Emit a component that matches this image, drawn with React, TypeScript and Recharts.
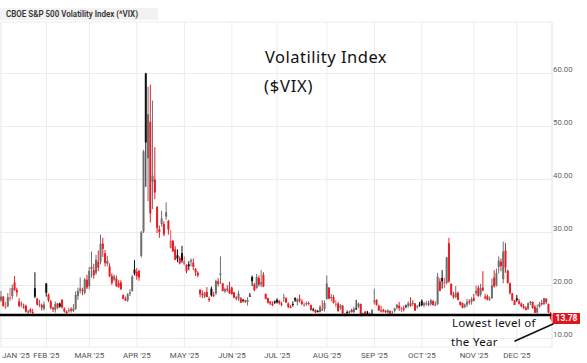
import React from 'react';
import { ComposedChart, Bar, XAxis, YAxis, CartesianGrid, ReferenceLine } from 'recharts';

const monthLabels = ['JAN', 'FEB', 'MAR', 'APR', 'MAY', 'JUN', 'JUL', 'AUG', 'SEP', 'OCT', 'NOV', 'DEC'];

const tradingDays: number[][] = [
  [2, 3, 6, 7, 8, 10, 13, 14, 15, 16, 17, 21, 22, 23, 24, 27, 28, 29, 30, 31],
  [3, 4, 5, 6, 7, 10, 11, 12, 13, 14, 18, 19, 20, 21, 24, 25, 26, 27, 28],
  [3, 4, 5, 6, 7, 10, 11, 12, 13, 14, 17, 18, 19, 20, 21, 24, 25, 26, 27, 28, 31],
  [1, 2, 3, 4, 7, 8, 9, 10, 11, 14, 15, 16, 17, 21, 22, 23, 24, 25, 28, 29, 30],
  [1, 2, 5, 6, 7, 8, 9, 12, 13, 14, 15, 16, 19, 20, 21, 22, 23, 27, 28, 29, 30],
  [2, 3, 4, 5, 6, 9, 10, 11, 12, 13, 16, 17, 18, 20, 23, 24, 25, 26, 27, 30],
  [1, 2, 3, 7, 8, 9, 10, 11, 14, 15, 16, 17, 18, 21, 22, 23, 24, 25, 28, 29, 30, 31],
  [1, 4, 5, 6, 7, 8, 11, 12, 13, 14, 15, 18, 19, 20, 21, 22, 25, 26, 27, 28, 29],
  [2, 3, 4, 5, 8, 9, 10, 11, 12, 15, 16, 17, 18, 19, 22, 23, 24, 25, 26, 29, 30],
  [1, 2, 3, 6, 7, 8, 9, 10, 13, 14, 15, 16, 17, 20, 21, 22, 23, 24, 27, 28, 29, 30, 31],
  [3, 4, 5, 6, 7, 10, 11, 12, 13, 14, 17, 18, 19, 20, 21, 24, 25, 26, 28],
  [1, 2, 3, 4, 5, 8, 9, 10, 11, 12, 15, 16, 17, 18, 19, 22],
];

const opens: number[][] = [
  [17.2, 17.9, 16.0, 16.1, 17.6, 18.0, 20.6, 19.2, 17.0, 16.4, 16.0, 16.2, 15.0, 15.5, 15.0, 19.5, 17.5, 16.4, 16.3, 15.6],
  [20.4, 18.3, 17.0, 15.8, 15.4, 16.6, 16.6, 17.3, 15.6, 15.1, 15.3, 15.6, 15.2, 15.6, 18.0, 19.0, 19.2, 18.6, 21.1],
  [19.9, 23.1, 22.9, 22.4, 24.5, 24.5, 27.9, 26.1, 24.1, 23.6, 21.8, 21.1, 21.3, 20.4, 20.6, 18.2, 17.5, 17.2, 18.4, 19.0, 23.0],
  [22.6, 22.8, 25.6, 30.2, 60.0, 44.0, 50.9, 39.5, 40.0, 34.8, 30.6, 31.6, 31.6, 33.0, 32.2, 27.1, 28.4, 26.8, 25.7, 25.2, 26.1],
  [24.0, 23.9, 24.0, 24.5, 24.3, 23.1, 22.4, 19.2, 18.4, 17.9, 18.8, 17.5, 19.4, 18.2, 18.5, 20.8, 22.0, 20.4, 18.9, 19.4, 19.2],
  [19.6, 18.7, 17.7, 17.5, 17.6, 17.3, 17.2, 16.9, 18.1, 21.6, 20.2, 19.5, 21.4, 20.2, 22.0, 18.4, 17.6, 17.0, 16.5, 17.0],
  [17.3, 17.1, 16.6, 17.7, 17.6, 16.6, 16.0, 16.5, 17.6, 16.9, 17.5, 17.0, 16.4, 16.6, 16.7, 16.3, 15.5, 15.4, 15.2, 15.0, 15.5, 15.6],
  [17.5, 19.6, 17.6, 17.8, 16.4, 16.6, 15.8, 16.2, 14.6, 15.0, 14.9, 15.4, 15.0, 15.7, 16.0, 16.5, 14.7, 15.1, 14.9, 14.6, 14.6],
  [16.9, 17.3, 16.2, 15.3, 15.4, 15.2, 14.9, 15.2, 14.7, 15.2, 15.8, 16.2, 15.6, 15.7, 16.2, 16.2, 16.6, 16.5, 16.6, 15.9, 16.4],
  [17.1, 16.3, 16.5, 16.6, 16.5, 17.1, 16.4, 16.5, 20.8, 21.4, 20.4, 20.5, 28.0, 20.3, 18.2, 17.8, 18.6, 16.9, 16.7, 16.0, 16.4, 17.0, 16.9],
  [17.6, 18.5, 19.6, 18.3, 19.6, 17.9, 18.0, 17.5, 17.6, 21.5, 20.0, 23.5, 24.5, 21.2, 26.6, 22.8, 20.4, 18.5, 17.2],
  [17.6, 17.0, 16.6, 16.1, 15.8, 15.6, 16.7, 16.9, 16.0, 14.9, 16.0, 16.7, 16.5, 17.5, 16.5, 14.9],
];

const highs: number[][] = [
  [19.0, 18.0, 16.9, 18.6, 19.5, 20.2, 21.8, 19.6, 17.6, 17.0, 16.6, 16.4, 15.4, 15.7, 15.6, 22.5, 17.7, 17.3, 16.6, 17.0],
  [20.4, 18.5, 17.3, 16.0, 17.0, 16.7, 16.8, 17.4, 15.9, 15.3, 15.8, 15.9, 16.5, 18.9, 19.6, 21.5, 19.6, 21.4, 22.0],
  [23.5, 26.4, 24.1, 25.8, 26.6, 29.6, 29.0, 26.7, 25.6, 24.2, 22.3, 22.1, 21.9, 21.0, 21.0, 18.3, 17.9, 18.6, 19.3, 22.0, 24.8],
  [23.3, 22.9, 30.3, 45.6, 60.13, 57.5, 57.9, 54.9, 46.1, 35.0, 31.3, 34.1, 32.1, 35.7, 32.4, 30.5, 28.6, 27.4, 26.8, 25.5, 27.5],
  [25.5, 24.0, 24.6, 25.1, 25.1, 23.3, 22.7, 19.3, 19.1, 18.8, 19.7, 17.9, 19.8, 18.8, 21.1, 21.4, 25.5, 20.5, 19.6, 20.1, 20.7],
  [19.8, 18.8, 18.0, 19.0, 17.8, 17.5, 17.3, 17.8, 18.6, 21.9, 20.5, 22.2, 21.9, 22.9, 22.5, 18.5, 17.7, 17.0, 17.0, 17.2],
  [17.6, 17.3, 16.9, 18.4, 17.8, 16.8, 16.3, 17.0, 17.8, 17.6, 18.3, 17.4, 16.8, 17.0, 17.0, 16.4, 15.8, 15.5, 15.4, 16.3, 17.2, 17.2],
  [21.9, 19.7, 18.4, 18.2, 17.2, 16.9, 16.5, 16.3, 14.8, 15.3, 15.3, 15.6, 16.0, 17.3, 16.8, 16.6, 14.9, 15.2, 15.2, 14.9, 15.6],
  [19.4, 17.4, 16.4, 16.2, 15.6, 15.4, 15.5, 15.3, 15.2, 15.8, 16.5, 16.9, 16.0, 16.2, 16.4, 17.0, 17.8, 17.3, 16.7, 16.3, 16.9],
  [17.4, 16.9, 17.1, 17.1, 17.5, 17.2, 17.0, 22.4, 21.4, 22.9, 21.5, 25.4, 29.0, 20.4, 18.8, 19.9, 18.9, 17.0, 16.8, 16.6, 17.5, 17.4, 17.8],
  [18.4, 20.0, 20.0, 20.3, 22.7, 18.4, 18.3, 17.9, 21.3, 22.9, 23.2, 25.5, 25.1, 28.3, 28.0, 23.0, 20.6, 18.6, 17.3],
  [18.2, 17.5, 16.8, 16.5, 16.1, 16.8, 17.1, 17.0, 16.3, 16.4, 16.9, 17.3, 17.7, 17.6, 16.6, 15.0],
];

const lows: number[][] = [
  [16.9, 16.0, 15.6, 15.9, 17.1, 17.4, 19.0, 17.9, 15.9, 15.9, 15.6, 14.9, 14.6, 14.8, 14.6, 17.6, 16.2, 15.9, 15.3, 15.3],
  [17.9, 16.9, 15.5, 15.0, 14.9, 15.6, 15.8, 15.6, 14.9, 14.6, 14.9, 14.9, 15.0, 15.4, 17.3, 18.5, 18.2, 18.3, 19.3],
  [19.3, 21.5, 21.3, 22.0, 22.7, 24.0, 25.4, 23.6, 23.6, 21.6, 20.1, 20.8, 19.7, 19.6, 19.2, 17.4, 17.1, 16.9, 18.0, 18.8, 21.9],
  [21.1, 20.9, 25.3, 29.9, 38.6, 35.9, 31.9, 34.4, 36.3, 29.9, 29.0, 31.1, 29.3, 32.4, 29.6, 27.0, 26.3, 24.8, 24.4, 24.0, 24.3],
  [23.8, 22.3, 22.9, 23.6, 22.9, 21.8, 21.6, 17.8, 17.6, 17.6, 17.8, 16.9, 17.9, 17.8, 18.2, 19.8, 20.3, 18.9, 18.6, 18.8, 18.4],
  [18.3, 17.6, 17.2, 17.1, 16.7, 16.8, 16.7, 16.2, 17.9, 19.9, 18.9, 19.4, 19.8, 19.7, 19.7, 17.4, 16.6, 16.3, 16.1, 16.5],
  [16.6, 16.4, 16.1, 16.9, 16.7, 15.7, 15.7, 16.0, 16.9, 16.2, 16.8, 16.3, 16.0, 16.2, 16.3, 15.3, 15.1, 14.8, 14.9, 14.9, 15.2, 15.1],
  [17.3, 17.4, 17.0, 16.6, 15.9, 15.1, 15.4, 14.6, 14.2, 14.3, 14.6, 14.9, 14.8, 15.4, 15.7, 14.2, 14.2, 14.4, 14.5, 14.2, 14.4],
  [16.4, 16.2, 15.2, 14.9, 14.9, 14.8, 14.7, 14.6, 14.5, 14.9, 15.5, 15.2, 15.0, 15.1, 15.7, 15.8, 16.0, 16.1, 15.2, 15.6, 16.0],
  [16.1, 15.9, 16.2, 16.1, 16.2, 16.2, 16.1, 16.3, 18.9, 19.4, 19.5, 20.2, 20.5, 18.1, 17.5, 17.6, 17.2, 16.2, 15.7, 15.7, 15.9, 16.4, 16.4],
  [17.0, 18.1, 17.9, 17.9, 18.9, 17.4, 17.2, 17.1, 17.5, 19.6, 19.8, 22.3, 22.7, 20.4, 22.4, 20.3, 18.3, 17.1, 16.3],
  [16.9, 16.4, 15.9, 15.6, 15.3, 15.4, 16.3, 15.6, 14.8, 14.7, 15.8, 16.2, 16.3, 16.5, 14.8, 13.7],
];

const closes: number[][] = [
  [17.93, 16.13, 16.04, 17.82, 17.70, 19.54, 19.19, 18.71, 16.12, 16.60, 15.97, 15.06, 15.10, 15.02, 14.85, 17.90, 16.41, 16.56, 15.84, 16.43],
  [18.62, 17.21, 15.77, 15.50, 16.54, 15.81, 16.02, 15.89, 15.10, 14.77, 15.35, 15.27, 15.66, 18.21, 18.98, 19.43, 19.10, 21.13, 19.63],
  [22.78, 23.51, 21.93, 24.87, 23.37, 27.86, 26.92, 24.23, 24.66, 21.77, 20.51, 21.70, 19.90, 19.80, 19.28, 17.48, 17.15, 18.33, 18.69, 21.65, 22.28],
  [21.77, 21.51, 30.02, 45.31, 46.98, 52.33, 33.62, 40.72, 37.56, 30.89, 30.12, 32.64, 29.65, 33.82, 30.57, 28.45, 26.47, 24.84, 25.15, 24.17, 24.70],
  [24.60, 22.68, 23.64, 24.76, 23.55, 22.48, 21.90, 18.39, 18.22, 18.62, 17.83, 17.24, 18.14, 18.09, 20.87, 20.28, 22.29, 18.96, 19.31, 19.18, 18.57],
  [18.36, 17.69, 17.61, 18.48, 16.77, 17.16, 16.95, 17.26, 18.02, 20.82, 19.11, 21.60, 20.14, 20.62, 19.83, 17.48, 16.76, 16.59, 16.32, 16.73],
  [16.83, 16.64, 16.38, 17.79, 16.81, 15.94, 15.78, 16.40, 17.20, 17.38, 17.16, 16.52, 16.41, 16.65, 16.50, 15.37, 15.39, 14.93, 15.03, 15.98, 15.48, 16.72],
  [20.38, 17.52, 17.85, 16.77, 16.57, 15.15, 16.25, 14.73, 14.49, 14.83, 15.09, 14.99, 15.57, 15.69, 16.60, 14.22, 14.79, 14.62, 14.85, 14.43, 15.36],
  [17.17, 16.35, 15.30, 15.18, 15.11, 15.04, 15.35, 14.71, 14.76, 15.69, 16.36, 15.72, 15.70, 15.45, 16.10, 16.64, 16.18, 16.74, 15.29, 16.12, 16.28],
  [16.29, 16.63, 16.65, 16.37, 17.24, 16.30, 16.43, 21.66, 19.03, 20.81, 20.64, 25.31, 20.78, 18.23, 17.87, 18.60, 17.30, 16.37, 15.79, 16.42, 16.92, 16.91, 17.44],
  [17.17, 19.00, 18.01, 19.50, 19.08, 17.60, 17.28, 17.51, 20.00, 19.83, 22.38, 24.69, 23.66, 26.42, 23.43, 20.52, 18.56, 17.19, 16.35],
  [17.24, 16.59, 16.08, 15.78, 15.41, 16.66, 16.93, 15.77, 14.85, 15.74, 16.50, 16.48, 17.62, 16.87, 14.91, 13.78],
];

const yTicks = [10, 20, 30, 40, 50, 60];
const lowestLevel = 14.43;
const lastClose = 13.78;

type Row = { date: string; open: number; high: number; low: number; close: number; range: [number, number]; color: string };

const data: Row[] = [];
const monthStarts: string[] = [];
let prevClose: number | null = null;
tradingDays.forEach((days, m) => {
  days.forEach((d, i) => {
    const date = `2025-${String(m + 1).padStart(2, '0')}-${String(d).padStart(2, '0')}`;
    if (i === 0) monthStarts.push(date);
    const open = opens[m][i];
    const high = highs[m][i];
    const low = lows[m][i];
    const close = closes[m][i];
    const ref = prevClose === null ? open : prevClose;
    const up = close >= ref;
    const filled = close < open;
    const color = up ? (filled ? '#111111' : '#6f6f6f') : (filled ? '#ea1b22' : '#f0575c');
    data.push({ date, open, high, low, close, range: [low, high], color });
    prevClose = close;
  });
});

const Candle = (props: any) => {
  const { x, y, width, height, payload } = props;
  if (!payload || x == null || y == null) return null;
  const { open, close, high, low, color } = payload as Row;
  const top = Math.min(y, y + height);
  const bot = Math.max(y, y + height);
  const span = high - low || 1;
  const px = (v: number) => top + ((high - v) / span) * (bot - top);
  const cx = x + width / 2;
  const bTop = px(Math.max(open, close));
  const bBot = px(Math.min(open, close));
  const bw = 2;
  return (
    <g>
      <line x1={cx} x2={cx} y1={top} y2={bot} stroke={color} strokeWidth={1} />
      <rect x={cx - bw / 2} y={bTop} width={bw} height={Math.max(bBot - bTop, 1)} fill={color} />
    </g>
  );
};

const XTick = (props: any) => {
  const { x, y, payload, index } = props;
  const m = Number(String(payload.value).slice(5, 7)) - 1;
  const label = `${monthLabels[m]} '25`;
  const first = index === 0;
  return (
    <text x={first ? 2 : x} y={y + 11} textAnchor={first ? 'start' : 'middle'} fontSize={8} fill="#555" fontFamily="Roboto, sans-serif">
      {label}
    </text>
  );
};

const YTick = (props: any) => {
  const { x, y, payload } = props;
  return (
    <text x={x + 1} y={y - 2} textAnchor="start" fontSize={7.8} fill="#666" fontFamily="Roboto, sans-serif">
      {Number(payload.value).toFixed(2)}
    </text>
  );
};

const PriceTag = (props: any) => {
  const vb = props.viewBox || {};
  const xr = (vb.x || 0) + (vb.width || 0);
  const yy = vb.y || 0;
  return (
    <g>
      <polygon
        points={`${xr - 2},${yy} ${xr + 1},${yy - 5.5} ${xr + 28},${yy - 5.5} ${xr + 28},${yy + 5.5} ${xr + 1},${yy + 5.5}`}
        fill="#e5141c"
      />
      <text x={xr + 14.5} y={yy + 3} textAnchor="middle" fontSize={8.5} fontWeight={700} fill="#fff" fontFamily="Roboto, sans-serif">
        {lastClose.toFixed(2)}
      </text>
    </g>
  );
};

export default function App() {
  return (
    <div style={{ position: 'absolute', left: 0, top: 0, width: 587, height: 363, background: '#fff', overflow: 'hidden' }}>
      <ComposedChart width={587} height={363} data={data} margin={{ top: 22, right: 0, bottom: 0, left: 0 }}>
        <CartesianGrid stroke="#ececec" strokeWidth={1} />
        <XAxis
          dataKey="date"
          type="category"
          ticks={monthStarts}
          interval={0}
          height={16}
          tickSize={0}
          tickMargin={0}
          tickLine={false}
          axisLine={false}
          tick={<XTick />}
        />
        <YAxis
          orientation="right"
          domain={[8.4, 69.72]}
          ticks={yTicks}
          allowDataOverflow
          width={35}
          tickSize={0}
          tickMargin={0}
          tickLine={false}
          axisLine={{ stroke: '#ececec' }}
          tick={<YTick />}
        />
        <Bar dataKey="range" shape={<Candle />} barSize={2} isAnimationActive={false} />
        <ReferenceLine y={lowestLevel} stroke="#000" strokeWidth={2.6} />
        <ReferenceLine y={lastClose} stroke="none" label={<PriceTag />} />
      </ComposedChart>
      <svg width={587} height={363} style={{ position: 'absolute', left: 0, top: 0, pointerEvents: 'none' }}>
        <rect x={0} y={8} width={158} height={12} fill="#f2f2f2" />
        <text x={6} y={17} fontSize={8.4} fontWeight={600} fill="#333" fontFamily="Roboto, sans-serif" textLength={132} lengthAdjust="spacingAndGlyphs">
          CBOE S&amp;P 500 Volatility Index (^VIX)
        </text>
        <text x={265} y={63} fontSize={16.5} fill="#111" fontFamily="'Noto Sans', sans-serif" letterSpacing={0.5}>
          Volatility Index
        </text>
        <text x={264} y={92} fontSize={16.5} fill="#111" fontFamily="'Noto Sans', sans-serif" letterSpacing={0.8}>
          ($VIX)
        </text>
        <text x={452} y={327} fontSize={11.5} fill="#111" fontFamily="'Noto Sans', sans-serif" letterSpacing={0.3}>
          Lowest level of
        </text>
        <text x={451} y={346} fontSize={11.5} fill="#111" fontFamily="'Noto Sans', sans-serif" letterSpacing={0.3}>
          the Year
        </text>
        <line x1={515} y1={341} x2={553} y2={324} stroke="#111" strokeWidth={1.6} strokeLinecap="round" />
      </svg>
    </div>
  );
}
